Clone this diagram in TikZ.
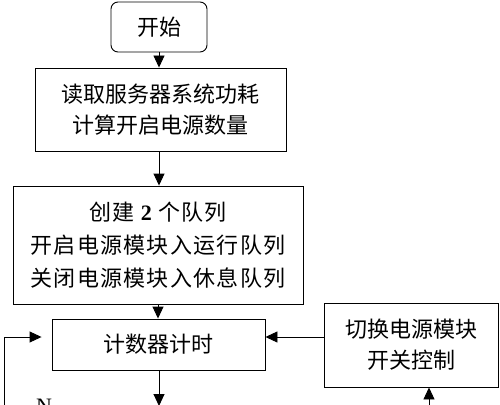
\documentclass[tikz,border=0pt]{standalone}
\usepackage{fontspec}
\newfontfamily\cjk{Noto Sans CJK SC}
\newfontfamily\tnr{Liberation Serif}
\usetikzlibrary{arrows.meta}
\begin{document}
\begin{tikzpicture}[x=1pt,y=-1pt,
  box/.style={draw, line width=0.9pt, inner sep=0pt, align=center,
    font=\cjk\fontsize{22pt}{31pt}\selectfont},
  arr/.style={draw, line width=0.9pt, -{Triangle[length=12pt,width=11pt]}},
  ln/.style={draw, line width=0.9pt}]
\useasboundingbox (0,0) rectangle (500,404);
\fill[white] (0,0) rectangle (500,404);
\node[box, rounded corners=7pt, minimum width=96pt, minimum height=50pt] (start) at (159,27) {开始};
\node[box, minimum width=251pt, minimum height=83pt] (b2) at (160.5,109.5) {读取服务器系统功耗\\计算开启电源数量};
\node[box, minimum width=290pt, minimum height=118pt,
  font=\cjk\fontsize{22pt}{33pt}\selectfont\addfontfeature{LetterSpace=6}] (b3) at (158,245)
  {创建 {\tnr\bfseries\addfontfeature{LetterSpace=0}2} 个队列\\开启电源模块入运行队列\\关闭电源模块入休息队列};
\node[box, minimum width=213pt, minimum height=51pt] (b4) at (158.5,344.5) {计数器计时};
\node[box, minimum width=174pt, minimum height=84pt] (rb) at (411,345) {切换电源模块\\开关控制};
\node[font=\tnr\fontsize{22pt}{26pt}\selectfont, anchor=base, inner sep=0pt] (nlab) at (44,413) {N};
\coordinate (yk) at (0,337);
\coordinate (dn) at (159,406);
\coordinate (up) at (429,420);
\coordinate (lb) at (4.5,420);
\coordinate (lk) at (4.5,337);
\draw[arr] (start.south) -- (start.south |- b2.north);
\draw[arr] (start.south |- b2.south) -- (start.south |- b3.north);
\draw[arr] (b3.south) -- (b3.south |- b4.north);
\draw[arr] (b4.south -| dn) -- (dn);
\draw[arr] (rb.west |- yk) -- (b4.east |- yk);
\draw[arr] (up) -- (up |- rb.south);
\draw[arr, shorten >=10pt] (lb) -- (lk) -- (b4.west |- yk);
\end{tikzpicture}
\end{document}
